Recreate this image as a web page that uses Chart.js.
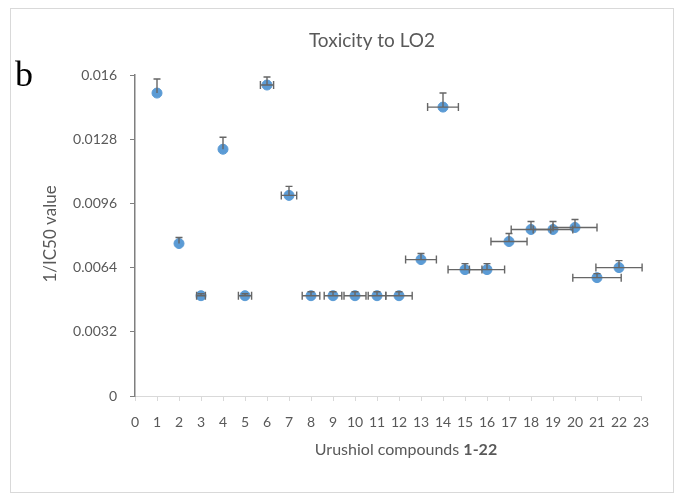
<!DOCTYPE html>
<html>
<head>
<meta charset="utf-8">
<script src="https://cdn.jsdelivr.net/npm/chart.js@4"></script>
<style>
  html, body { margin: 0; padding: 0; background: #fff; }
  #wrap { width: 684px; height: 501px; position: relative; }
</style>
</head>
<body>
<div id="wrap"><canvas id="myChart"></canvas></div>
<script>
// compounds 1-22, 1/IC50 values, and error bars
const compounds = [1, 2, 3, 4, 5, 6, 7, 8, 9, 10, 11, 12, 13, 14, 15, 16, 17, 18, 19, 20, 21, 22];
const values = [0.0151, 0.0076, 0.0050, 0.0123, 0.0050, 0.0155, 0.0100, 0.0050, 0.0050, 0.0050, 0.0050,
                0.0050, 0.0068, 0.0144, 0.0063, 0.0063, 0.0077, 0.0083, 0.0083, 0.0084, 0.0059, 0.0064];
const yErrPlus = [0.0007, 0.0003, 0.0001, 0.0006, 0.0001, 0.0004, 0.00045, 0.0002, 0.0002, 0.0002, 0.0002,
                  0.0002, 0.0003, 0.0007, 0.0003, 0.0003, 0.0004, 0.0004, 0.0004, 0.0004, 0.0002, 0.00035];
const xErr = [0, 0, 0.2, 0, 0.3, 0.3, 0.35, 0.4, 0.4, 0.5, 0.4,
              0.6, 0.7, 0.7, 0.77, 0.8, 0.82, 0.9, 0.9, 1.0, 1.1, 1.05];
const xTicks = [0, 1, 2, 3, 4, 5, 6, 7, 8, 9, 10, 11, 12, 13, 14, 15, 16, 17, 18, 19, 20, 21, 22, 23];
const yTicks = [0, 0.0032, 0.0064, 0.0096, 0.0128, 0.016];

const font = 'Lato, "Open Sans", sans-serif';
const grey = '#595959';

// whisker lines drawn on top of the markers, like Excel does
const errorBars = {
    id: 'errorBars',
    afterDatasetsDraw(chart) {
        const ctx = chart.ctx;
        const xs = chart.scales.x, ys = chart.scales.y;
        ctx.save();
        ctx.strokeStyle = '#666';
        ctx.lineWidth = 1.4;
        compounds.forEach((c, i) => {
            const px = xs.getPixelForValue(c);
            const py = ys.getPixelForValue(values[i]);
            // y: plus direction only
            const top = ys.getPixelForValue(values[i] + yErrPlus[i]);
            ctx.beginPath();
            ctx.moveTo(px, py);
            ctx.lineTo(px, top);
            ctx.moveTo(px - 3.5, top);
            ctx.lineTo(px + 3.5, top);
            ctx.stroke();
            if (xErr[i] > 0) {
                const l = xs.getPixelForValue(c - xErr[i]);
                const r = xs.getPixelForValue(c + xErr[i]);
                ctx.beginPath();
                ctx.moveTo(l, py);
                ctx.lineTo(r, py);
                ctx.moveTo(l, py - 4);
                ctx.lineTo(l, py + 4);
                ctx.moveTo(r, py - 4);
                ctx.lineTo(r, py + 4);
                ctx.stroke();
            }
        });
        ctx.restore();
    }
};

// frame, panel letter, titles
const decorations = {
    id: 'decorations',
    beforeDraw(chart) {
        const ctx = chart.ctx;
        ctx.save();
        ctx.fillStyle = '#fff';
        ctx.fillRect(0, 0, chart.width, chart.height);
        ctx.strokeStyle = '#d9d9d9';
        ctx.lineWidth = 1;
        ctx.strokeRect(10.5, 8.5, 663, 484);
        ctx.restore();
    },
    afterDraw(chart) {
        const ctx = chart.ctx;
        const area = chart.chartArea;
        ctx.save();
        ctx.fillStyle = '#000';
        ctx.font = '36px "Liberation Serif", serif';
        ctx.textBaseline = 'alphabetic';
        ctx.textAlign = 'left';
        ctx.fillText('b', 15, 86);

        ctx.fillStyle = grey;
        ctx.font = '19px ' + font;
        ctx.textAlign = 'center';
        ctx.textBaseline = 'middle';
        ctx.fillText('Toxicity to LO2', 372, 41);

        // x title, "1-22" bold
        const partA = 'Urushiol compounds ';
        const partB = '1-22';
        ctx.font = '16px ' + font;
        const wA = ctx.measureText(partA).width;
        ctx.font = 'bold 16px ' + font;
        const wB = ctx.measureText(partB).width;
        const cx = (area.left + area.right) / 2 + 18;
        let x0 = cx - (wA + wB) / 2;
        ctx.textAlign = 'left';
        ctx.font = '16px ' + font;
        ctx.fillText(partA, x0, 450);
        ctx.font = 'bold 16px ' + font;
        ctx.fillText(partB, x0 + wA, 450);

        ctx.translate(51, 234);
        ctx.rotate(-Math.PI / 2);
        ctx.textAlign = 'center';
        ctx.font = '17px ' + font;
        ctx.fillText('1/IC50 value', 0, 0);
        ctx.restore();
    }
};

const ctx = document.getElementById('myChart').getContext('2d');
new Chart(ctx, {
    type: 'scatter',
    data: {
        datasets: [{
            data: compounds.map((c, i) => ({ x: c, y: values[i] })),
            backgroundColor: '#5B9BD5',
            borderColor: '#5B9BD5',
            pointRadius: 5,
            pointHoverRadius: 5
        }]
    },
    options: {
        responsive: true,
        maintainAspectRatio: false,
        animation: false,
        events: [],
        layout: { padding: { left: 0, right: 43, top: 75, bottom: 0 } },
        plugins: {
            legend: { display: false },
            tooltip: { enabled: false },
            title: { display: false }
        },
        scales: {
            x: {
                type: 'linear',
                min: 0,
                max: 23,
                afterBuildTicks(scale) { scale.ticks = xTicks.map(v => ({ value: v })); },
                afterFit(scale) { scale.height = 105; },
                grid: { drawOnChartArea: false, drawTicks: true, tickLength: 5, color: '#d9d9d9' },
                border: { display: true, color: '#d9d9d9', width: 1 },
                ticks: { autoSkip: false, maxRotation: 0, padding: 13, color: grey, font: { family: font, size: 14 } }
            },
            y: {
                type: 'linear',
                min: 0,
                max: 0.016,
                afterBuildTicks(scale) { scale.ticks = yTicks.map(v => ({ value: v })); },
                afterFit(scale) { scale.width = 135; },
                grid: { drawOnChartArea: false, drawTicks: true, tickLength: 5, color: '#7f7f7f' },
                border: { display: true, color: '#7f7f7f', width: 1.5 },
                ticks: {
                    padding: 13,
                    color: grey,
                    font: { family: font, size: 14 },
                    callback: v => String(+v.toFixed(4))
                }
            }
        }
    },
    plugins: [decorations, errorBars]
});
</script>
</body>
</html>
